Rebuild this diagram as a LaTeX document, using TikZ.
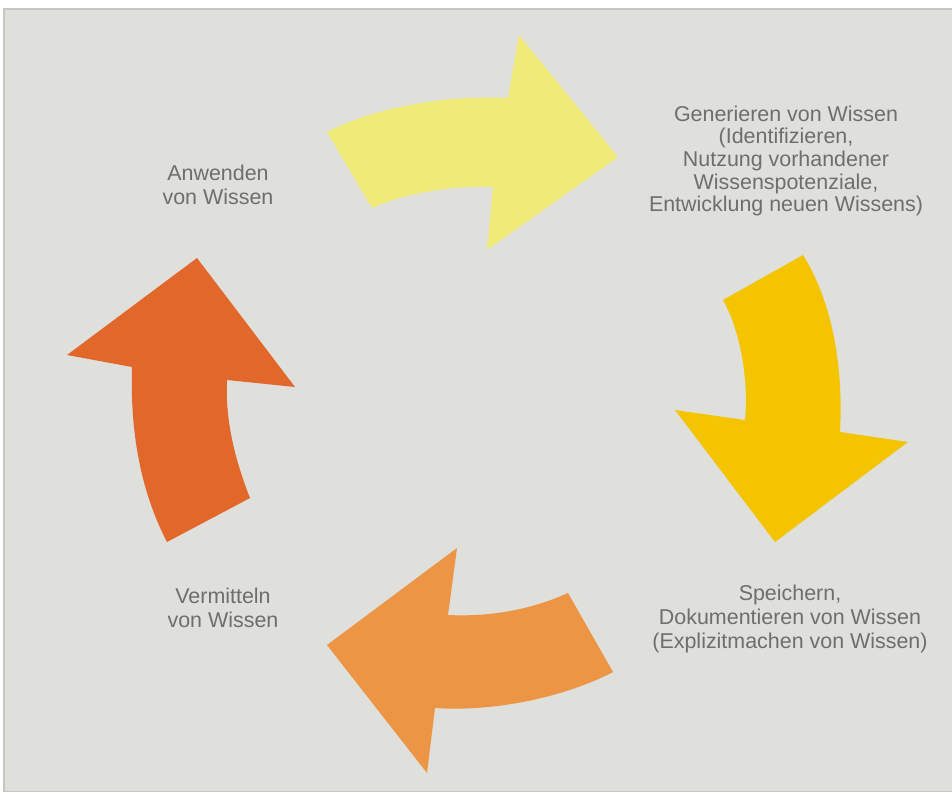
\documentclass[tikz,border=0pt]{standalone}
\usepackage{fontspec}
\setmainfont{Liberation Sans}
\definecolor{hintergrund}{HTML}{DFDFDB}
\definecolor{rahmen}{HTML}{C6C6C4}
\definecolor{schrift}{HTML}{6E6E6E}
\definecolor{gelb}{HTML}{F0EA78}
\definecolor{gold}{HTML}{F5C400}
\definecolor{orange}{HTML}{EC9545}
\definecolor{rot}{HTML}{E2672A}

\begin{document}
\begin{tikzpicture}[x=0.02cm,y=-0.02cm,
  label text/.style={text=schrift,align=center,font=\fontsize{12.2}{13.6}\selectfont}]
  % 画布（像素坐标）
  \useasboundingbox (0,0) rectangle (952,791);
  \fill[white] (0,0) rectangle (952,791);
  \filldraw[fill=hintergrund,draw=rahmen,line width=0.6pt] (4,9) rectangle (953,792);

  % 上方箭头
  \fill[gelb] (327,132) .. controls (375,108) and (440,95) .. (508,98) -- (519,35) -- (618,157)
    -- (487,250) -- (493,187) .. controls (455,185) and (405,193) .. (372,208) -- cycle;

  % 右侧箭头
  \fill[gold] (723,300) -- (803,255) .. controls (828,295) and (844,355) .. (840,432) -- (908,442)
    -- (775,542) -- (675,410) -- (745,420) .. controls (749,380) and (740,330) .. (723,300) -- cycle;

  % 下方箭头
  \fill[orange] (568,593) -- (613,672) .. controls (565,697) and (495,712) .. (435,708) -- (427,773)
    -- (327,645) -- (457,548) -- (448,615) .. controls (490,617) and (530,610) .. (568,593) -- cycle;

  % 左侧箭头
  \fill[rot] (167,542) -- (250,498) .. controls (235,460) and (225,420) .. (227,380) -- (295,387)
    -- (197,258) -- (67,355) -- (132,367) .. controls (130,430) and (140,490) .. (167,542) -- cycle;

  % 文字
  \node[label text] (anwenden) at (218,185) {Anwenden\\von Wissen};
  \node[label text,font=\fontsize{12.2}{12.9}\selectfont] (generieren) at (786,161) {Generieren von Wissen\\(Identifizieren,\\Nutzung vorhandener\\Wissenspotenziale,\\Entwicklung neuen Wissens)};
  \node[label text] (speichern) at (790,619) {Speichern,\\Dokumentieren von Wissen\\(Explizitmachen von Wissen)};
  \node[label text] (vermitteln) at (223,608) {Vermitteln\\von Wissen};
\end{tikzpicture}
\end{document}
